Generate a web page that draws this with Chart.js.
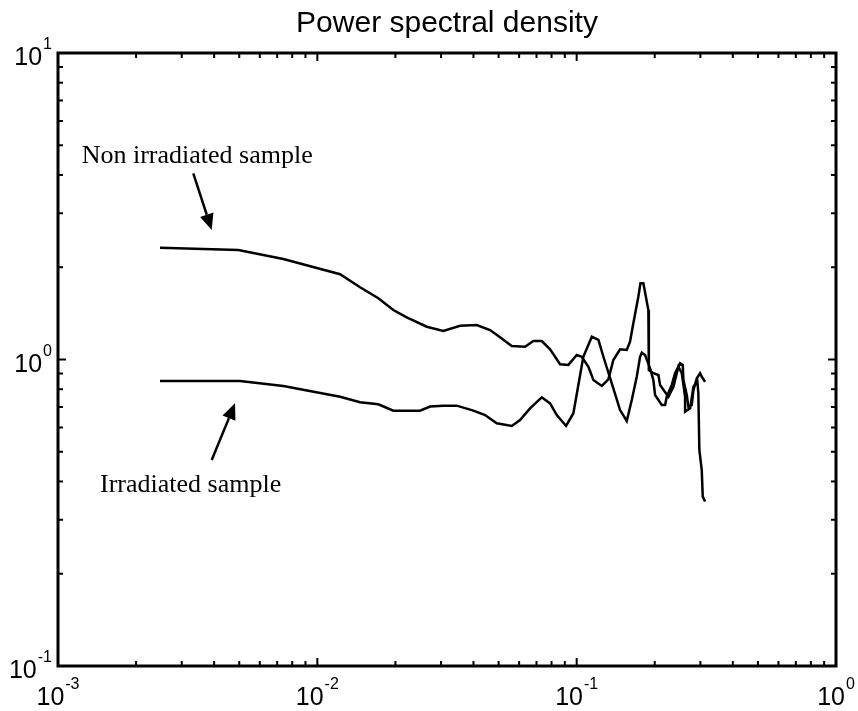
<!DOCTYPE html>
<html>
<head>
<meta charset="utf-8">
<script src="https://cdn.jsdelivr.net/npm/chart.js@4/dist/chart.umd.min.js"></script>
<style>
  html, body { margin: 0; padding: 0; background: #fff; }
  #wrap { width: 858px; height: 711px; }
</style>
</head>
<body>
<div id="wrap"><canvas id="psd"></canvas></div>
<script>
// frequency / PSD
const freqNonIrr = [0.002474, 0.004958, 0.007393, 0.01224, 0.01461, 0.01719, 0.01964, 0.02212, 0.02642, 0.03061,
  0.03551, 0.04118, 0.04634, 0.05065, 0.05620, 0.06324, 0.06808, 0.07334, 0.07896, 0.08630,
  0.09290, 0.1001, 0.1046, 0.1110, 0.1160, 0.1250, 0.1325, 0.1385, 0.1470, 0.1560,
  0.1606, 0.1654, 0.1729, 0.1762, 0.1808, 0.1890, 0.1898, 0.1976, 0.2066, 0.2097,
  0.2258, 0.2361, 0.2467, 0.2543, 0.2619, 0.2619, 0.2738, 0.2820, 0.2921, 0.2946,
  0.2972, 0.3036, 0.3063, 0.3127];
const psdNonIrr = [2.317, 2.277, 2.128, 1.897, 1.720, 1.584, 1.450, 1.373, 1.279, 1.239,
  1.289, 1.296, 1.248, 1.181, 1.107, 1.101, 1.149, 1.149, 1.080, 0.965,
  0.960, 1.034, 1.021, 0.947, 0.857, 0.820, 0.862, 0.996, 1.080, 1.074,
  1.143, 1.313, 1.603, 1.773, 1.773, 1.450, 0.924, 0.902, 0.890, 0.826,
  0.756, 0.815, 0.947, 0.902, 0.756, 0.676, 0.693, 0.815, 0.846, 0.776,
  0.507, 0.436, 0.357, 0.344];

const freqIrr = [0.002474, 0.005033, 0.007393, 0.01224, 0.01461, 0.01719, 0.01964, 0.02489, 0.02720, 0.03061,
  0.03449, 0.03996, 0.04433, 0.04918, 0.05620, 0.06048, 0.06611, 0.07334, 0.07896, 0.08381,
  0.09101, 0.09712, 0.1061, 0.1144, 0.1213, 0.1268, 0.1366, 0.1470, 0.1560, 0.1631,
  0.1705, 0.1756, 0.1783, 0.1836, 0.1919, 0.1976, 0.2006, 0.2128, 0.2193, 0.2225,
  0.2327, 0.2396, 0.2505, 0.2565, 0.2580, 0.2658, 0.2697, 0.2779, 0.2820, 0.2906,
  0.2991, 0.3036, 0.3127];
const psdIrr = [0.851, 0.851, 0.820, 0.756, 0.725, 0.714, 0.681, 0.681, 0.702, 0.707,
  0.707, 0.681, 0.659, 0.619, 0.607, 0.635, 0.693, 0.753, 0.719, 0.659,
  0.607, 0.668, 1.021, 1.187, 1.158, 1.021, 0.836, 0.684, 0.630, 0.738,
  0.879, 1.021, 1.052, 1.034, 0.936, 0.857, 0.766, 0.711, 0.711, 0.756,
  0.826, 0.902, 0.972, 0.960, 0.857, 0.766, 0.702, 0.711, 0.795, 0.868,
  0.902, 0.879, 0.846];

// axis decades (exponents) used for the tick labels
const xTickExps = [-3, -2, -1, 0];
const yTickExps = [-1, 0, 1];

const titleText = "Power spectral density";

// annotations: text anchor and arrow tail/tip, in data units
const notes = [
  { text: "Non irradiated sample", at: [0.001234, 4.376], tail: [0.003324, 4.051], tip: [0.003915, 2.646] },
  { text: "Irradiated sample", at: [0.001452, 0.3704], tail: [0.003915, 0.470], tip: [0.004816, 0.7195] }
];

const toPts = (xs, ys) => xs.map((x, i) => ({ x: x, y: ys[i] }));

const matlabAxes = {
  id: "matlabAxes",
  afterDraw(chart) {
    const ctx = chart.ctx;
    const xs = chart.scales.x, ys = chart.scales.y;
    const a = chart.chartArea;
    ctx.save();
    ctx.strokeStyle = "#000";
    ctx.fillStyle = "#000";

    // tick marks, inside on all four sides
    ctx.lineWidth = 2;
    const tick = (px, py, dx, dy) => {
      ctx.beginPath(); ctx.moveTo(px, py); ctx.lineTo(px + dx, py + dy); ctx.stroke();
    };
    xTickExps.forEach((e, k) => {
      for (let m = 1; m <= 9; m++) {
        if (m > 1 && k === xTickExps.length - 1) break;
        const px = xs.getPixelForValue(m * Math.pow(10, e));
        const len = m === 1 ? 8 : 5;
        tick(px, a.bottom, 0, -len);
        tick(px, a.top, 0, len);
      }
    });
    yTickExps.forEach((e, k) => {
      for (let m = 1; m <= 9; m++) {
        if (m > 1 && k === yTickExps.length - 1) break;
        const py = ys.getPixelForValue(m * Math.pow(10, e));
        const len = m === 1 ? 8 : 5;
        tick(a.left, py, len, 0);
        tick(a.right, py, -len, 0);
      }
    });

    // frame
    ctx.lineWidth = 3;
    ctx.strokeRect(a.left, a.top, a.right - a.left, a.bottom - a.top);

    // tick labels 10^n
    const big = "25px 'Liberation Sans', Arial, sans-serif";
    const small = "16px 'Liberation Sans', Arial, sans-serif";
    const powerLabel = (e, cx, base, align) => {
      ctx.font = big; const wb = ctx.measureText("10").width;
      ctx.font = small; const ws = ctx.measureText(String(e)).width;
      const total = wb + ws + 1;
      let left = align === "right" ? cx - total : cx - total / 2;
      ctx.textAlign = "left"; ctx.textBaseline = "alphabetic";
      ctx.font = big; ctx.fillText("10", left, base);
      ctx.font = small; ctx.fillText(String(e), left + wb + 1, base - 16);
    };
    xTickExps.forEach(e => {
      powerLabel(e, xs.getPixelForValue(Math.pow(10, e)), a.bottom + 39, "center");
    });
    yTickExps.forEach(e => {
      powerLabel(e, a.left - 6, ys.getPixelForValue(Math.pow(10, e)) + 12, "right");
    });

    // title
    ctx.font = "30px 'Liberation Sans', Arial, sans-serif";
    ctx.textAlign = "center";
    ctx.fillText(titleText, (a.left + a.right) / 2, 32);

    // annotations with arrows
    ctx.font = "26px 'Liberation Serif', 'Times New Roman', serif";
    ctx.textAlign = "left";
    notes.forEach(n => {
      ctx.fillText(n.text, xs.getPixelForValue(n.at[0]), ys.getPixelForValue(n.at[1]));
      const x0 = xs.getPixelForValue(n.tail[0]), y0 = ys.getPixelForValue(n.tail[1]);
      const x1 = xs.getPixelForValue(n.tip[0]), y1 = ys.getPixelForValue(n.tip[1]);
      const ang = Math.atan2(y1 - y0, x1 - x0);
      const hl = 16, hw = 7;
      const bx = x1 - hl * Math.cos(ang), by = y1 - hl * Math.sin(ang);
      ctx.lineWidth = 2.5;
      ctx.beginPath(); ctx.moveTo(x0, y0); ctx.lineTo(bx, by); ctx.stroke();
      ctx.beginPath();
      ctx.moveTo(x1, y1);
      ctx.lineTo(bx + hw * Math.sin(ang), by - hw * Math.cos(ang));
      ctx.lineTo(bx - hw * Math.sin(ang), by + hw * Math.cos(ang));
      ctx.closePath(); ctx.fill();
    });
    ctx.restore();
  }
};

new Chart(document.getElementById("psd"), {
  type: "line",
  data: {
    datasets: [{
      label: "Non irradiated sample",
      data: toPts(freqNonIrr, psdNonIrr),
      borderColor: "#000",
      borderWidth: 2.5,
      pointRadius: 0,
      tension: 0
    }, {
      label: "Irradiated sample",
      data: toPts(freqIrr, psdIrr),
      borderColor: "#000",
      borderWidth: 2.5,
      pointRadius: 0,
      tension: 0
    }]
  },
  options: {
    responsive: true,
    maintainAspectRatio: false,
    animation: false,
    layout: { padding: { left: 58, right: 22, top: 53, bottom: 45 } },
    plugins: { legend: { display: false }, tooltip: { enabled: false }, title: { display: false } },
    scales: {
      x: { type: "logarithmic", min: 0.001, max: 1, display: false },
      y: { type: "logarithmic", min: 0.1, max: 10, display: false }
    }
  },
  plugins: [matlabAxes]
});
</script>
</body>
</html>
